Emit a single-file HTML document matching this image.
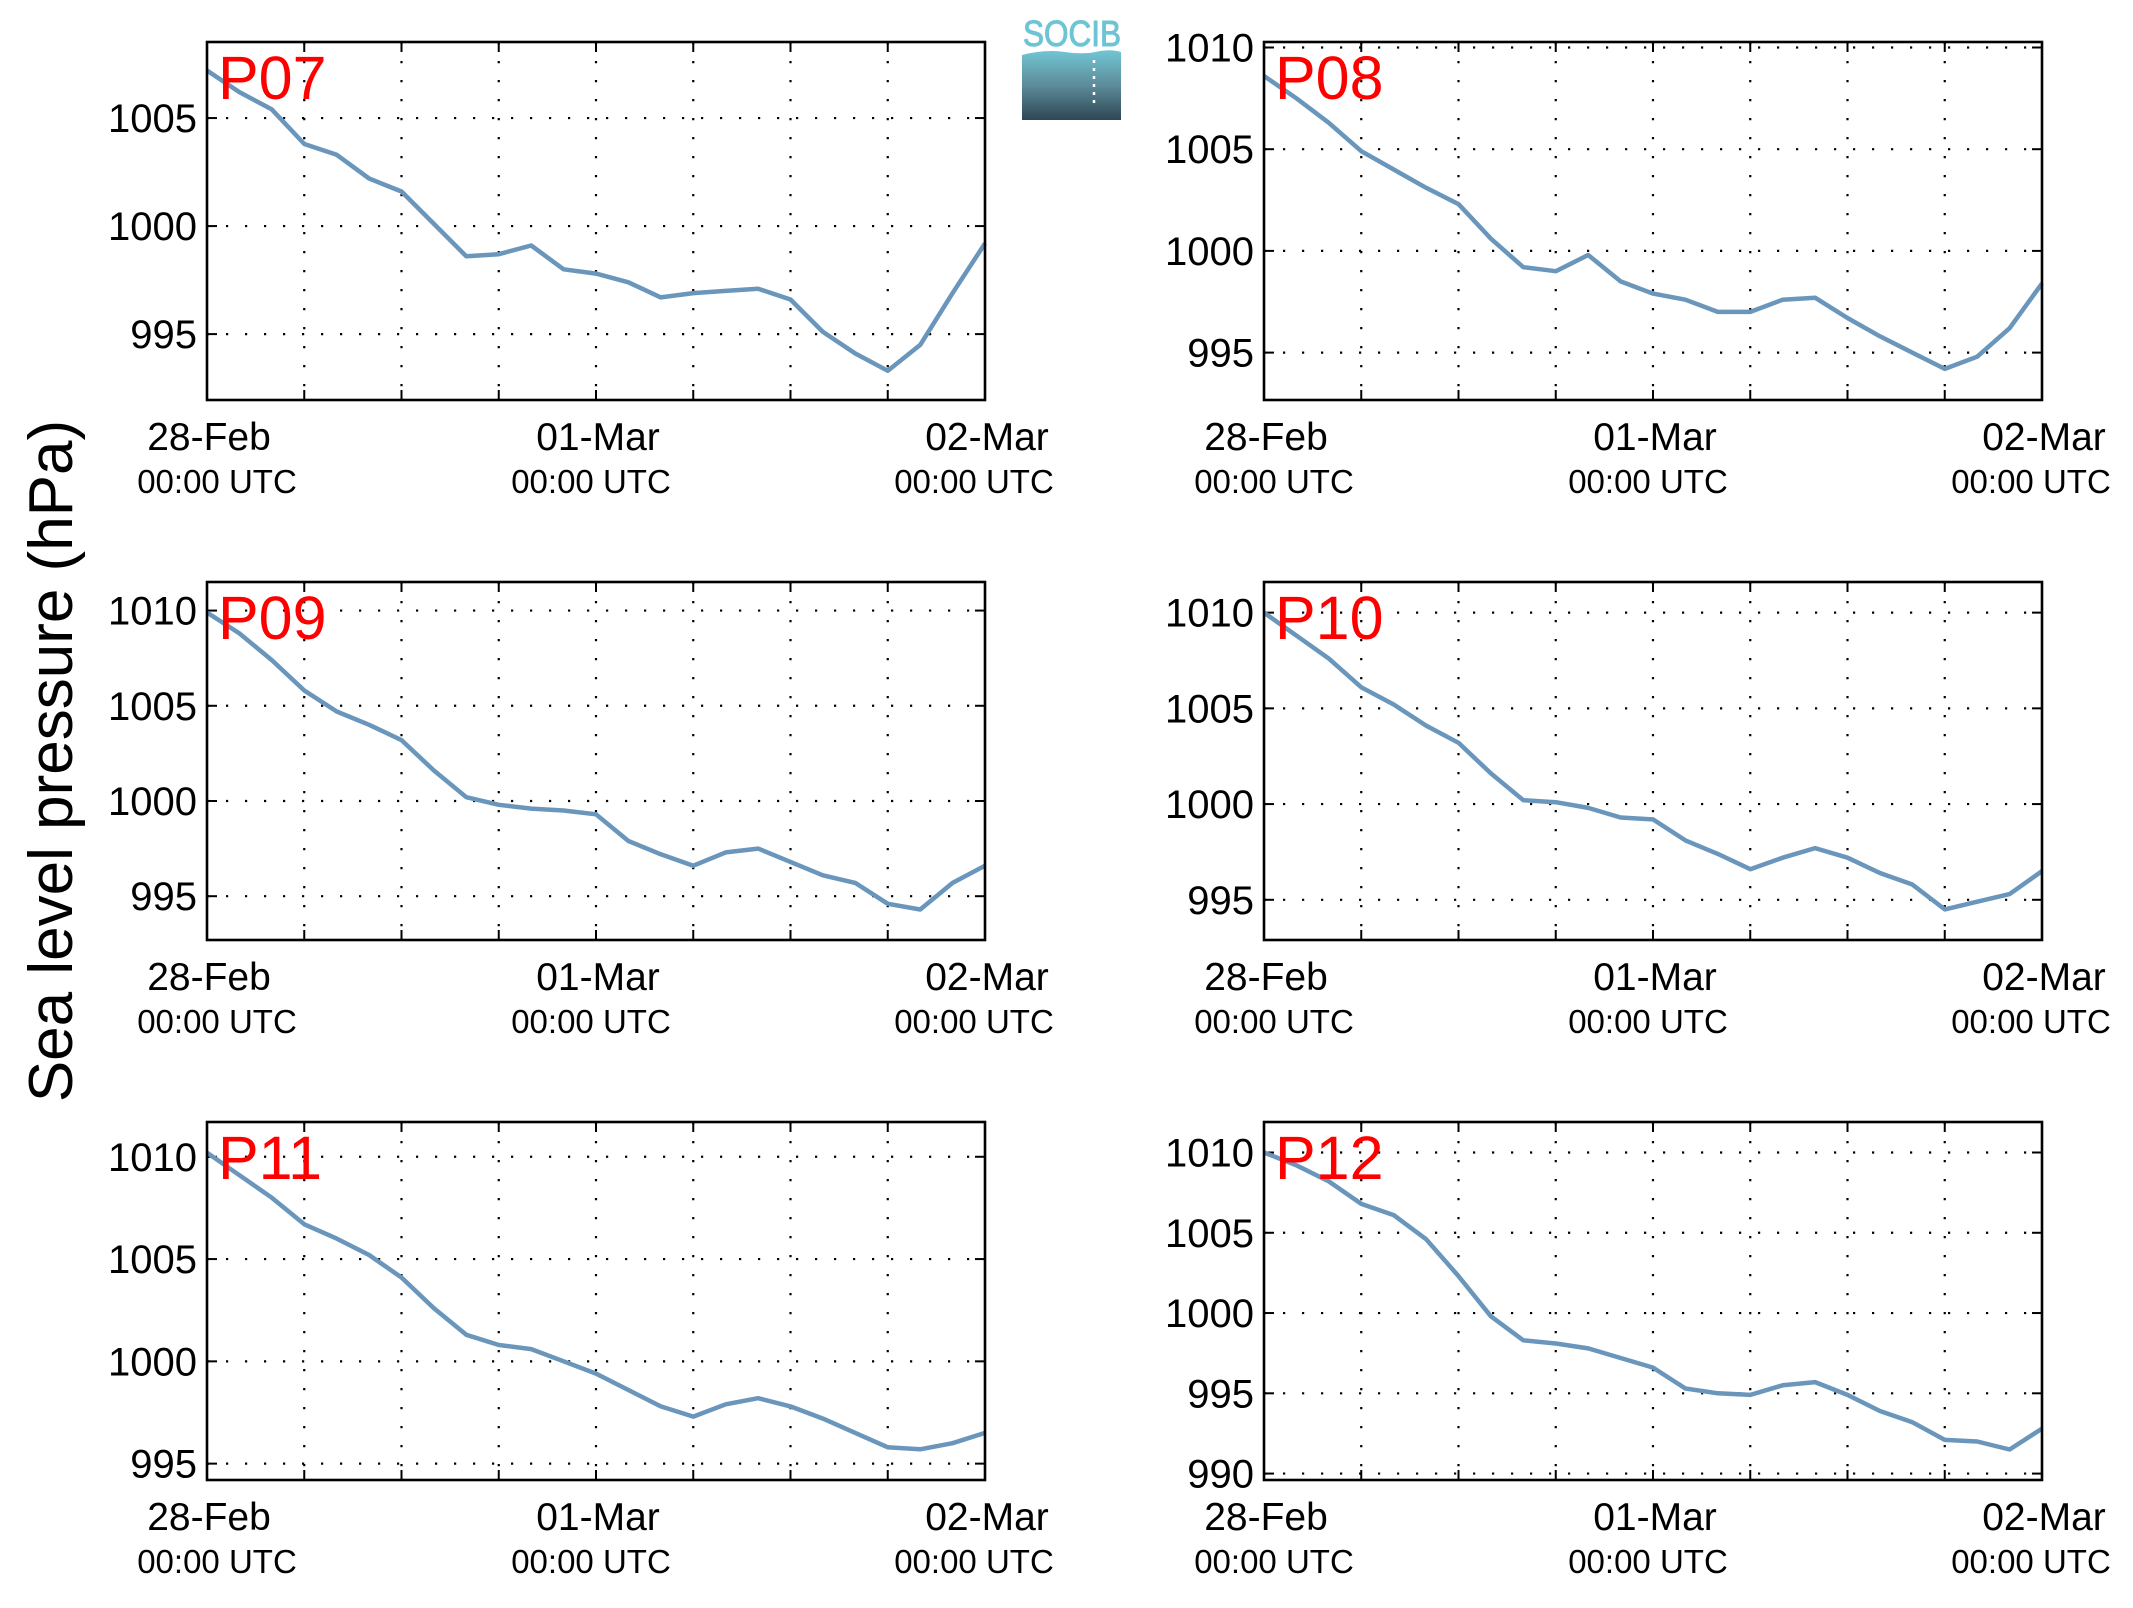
<!DOCTYPE html>
<html><head><meta charset="utf-8"><style>
html,body{margin:0;padding:0;background:#fff;}
svg{display:block;font-family:"Liberation Sans",Arial,sans-serif;}
</style></head><body>
<svg id="fig" width="2133" height="1608" viewBox="0 0 2133 1608" xmlns="http://www.w3.org/2000/svg">
<rect width="2133" height="1608" fill="#fff"/>
<text transform="translate(72,761) rotate(-90)" text-anchor="middle" font-size="62" fill="#000">Sea level pressure (hPa)</text>
<g>
<defs><linearGradient id="lg" x1="0" y1="0" x2="0" y2="1"><stop offset="0" stop-color="#72c6d5"/><stop offset="0.5" stop-color="#5d8c9a"/><stop offset="1" stop-color="#2f4653"/></linearGradient></defs>
<text x="1072" y="46" text-anchor="middle" font-size="36" fill="#6cc4d4" stroke="#6cc4d4" stroke-width="1" textLength="98" lengthAdjust="spacingAndGlyphs">SOCIB</text>
<path d="M1022,55 Q1045,49 1065,52 Q1085,55 1100,51 Q1112,49 1121,52 L1121,120 L1022,120 Z" fill="url(#lg)"/>
<line x1="1094" y1="60" x2="1094" y2="106" stroke="#fff" stroke-width="2.5" stroke-dasharray="3 5"/>
</g>
<g id="panels"></g>
</svg>
<script>
const hours = [0,2,4,6,8,10,12,14,16,18,20,22,24,26,28,30,32,34,36,38,40,42,44,46,48];
const xTickHours = [0,6,12,18,24,30,36,42,48];
const xLabelHours = [0,24,48];
const xDateLabels = ["28-Feb","01-Mar","02-Mar"];
const xTimeLabels = ["00:00 UTC","00:00 UTC","00:00 UTC"];
const panelNames = ["P07","P08","P09","P10","P11","P12"];
const p07 = [1007.2,1006.2,1005.4,1003.8,1003.3,1002.2,1001.6,1000.1,998.6,998.7,999.1,998.0,997.8,997.4,996.7,996.9,997.0,997.1,996.6,995.1,994.1,993.3,994.5,996.9,999.2];
const p08 = [1008.6,1007.5,1006.3,1004.9,1004.0,1003.1,1002.3,1000.6,999.2,999.0,999.8,998.5,997.9,997.6,997.0,997.0,997.6,997.7,996.7,995.8,995.0,994.2,994.8,996.2,998.4];
const p09 = [1009.9,1008.8,1007.4,1005.8,1004.7,1004.0,1003.2,1001.6,1000.2,999.8,999.6,999.5,999.3,997.9,997.2,996.6,997.3,997.5,996.8,996.1,995.7,994.6,994.3,995.7,996.6];
const p10 = [1010.0,1008.8,1007.6,1006.1,1005.2,1004.1,1003.2,1001.6,1000.2,1000.1,999.8,999.3,999.2,998.1,997.4,996.6,997.2,997.7,997.2,996.4,995.8,994.5,994.9,995.3,996.5];
const p11 = [1010.2,1009.1,1008.0,1006.7,1006.0,1005.2,1004.1,1002.6,1001.3,1000.8,1000.6,1000.0,999.4,998.6,997.8,997.3,997.9,998.2,997.8,997.2,996.5,995.8,995.7,996.0,996.5];
const p12 = [1010.0,1009.2,1008.2,1006.8,1006.1,1004.6,1002.3,999.8,998.3,998.1,997.8,997.2,996.6,995.3,995.0,994.9,995.5,995.7,994.9,993.9,993.2,992.1,992.0,991.5,992.8];
const yMins = [991.95,992.67,992.7,992.9,994.2,989.6];
const yMaxs = [1008.52,1010.27,1011.5,1011.6,1011.7,1011.9];
const yTicks07 = [995,1000,1005];
const yTicksStd = [995,1000,1005,1010];
const yTicks12 = [990,995,1000,1005,1010];

const seriesList = [p07,p08,p09,p10,p11,p12];
const tickList = [yTicks07,yTicksStd,yTicksStd,yTicksStd,yTicksStd,yTicks12];
const timeOffsets = [10,-5,-11];
const NS = "http://www.w3.org/2000/svg";
const boxes = [[207,42],[1264,42],[207,582],[1264,582],[207,1122],[1264,1122]];
const W = 778, H = 358;
const root = document.getElementById("panels");
function mk(tag, attrs, parent){const e=document.createElementNS(NS,tag);for(const k in attrs)e.setAttribute(k,attrs[k]);parent.appendChild(e);return e;}

seriesList.forEach((vals, i) => {
  const [L,T] = boxes[i];
  const name = panelNames[i].toLowerCase();
  const g = mk("g", {}, root);
  
  
  const xs = h => L + h / 48 * W;
  const ys = v => T + H - (v - yMins[i]) / (yMaxs[i] - yMins[i]) * H;
  xTickHours.forEach(h => {
    const x = xs(h);
    if (h > 0 && h < 48) {
      const gl = mk("line", {x1:x,y1:T,x2:x,y2:T+H,stroke:"#000","stroke-width":2.2,"stroke-dasharray":"2.2 16.8"}, g);
      
      
    }
    mk("line", {x1:x,y1:T+H,x2:x,y2:T+H-10,stroke:"#000","stroke-width":2}, g);
    mk("line", {x1:x,y1:T,x2:x,y2:T+10,stroke:"#000","stroke-width":2}, g);
  });
  tickList[i].forEach(v => {
    const y = ys(v);
    const gl = mk("line", {x1:L,y1:y,x2:L+W,y2:y,stroke:"#000","stroke-width":2.2,"stroke-dasharray":"2.2 16.8"}, g);
    
    
    mk("line", {x1:L,y1:y,x2:L+10,y2:y,stroke:"#000","stroke-width":2}, g);
    mk("line", {x1:L+W,y1:y,x2:L+W-10,y2:y,stroke:"#000","stroke-width":2}, g);
    const t = mk("text", {x:L-10,y:y+14,"text-anchor":"end","font-size":40,fill:"#000"}, g);
    
    
    t.textContent = v;
  });
  xLabelHours.forEach((h, k) => {
    const x = xs(h);
    const t1 = mk("text", {x:x+2,y:T+H+50,"text-anchor":"middle","font-size":39,fill:"#000"}, g);
    
    
    t1.textContent = xDateLabels[k];
    const t2 = mk("text", {x:x+timeOffsets[k],y:T+H+93,"text-anchor":"middle","font-size":33,fill:"#000"}, g);
    
    
    t2.textContent = xTimeLabels[k];
  });
  const pts = hours.map((h, k) => xs(h).toFixed(1) + "," + ys(vals[k]).toFixed(1)).join(" ");
  const line = mk("polyline", {points:pts,fill:"none",stroke:"#6a96bc","stroke-width":4.5,"stroke-linejoin":"round"}, g);
  
  
  const lab = mk("text", {x:L+11,y:T+57,"font-size":61,fill:"#ff0000"}, g);
  
  
  lab.textContent = panelNames[i];
  const frame = mk("rect", {x:L,y:T,width:W,height:H,fill:"none",stroke:"#000","stroke-width":2.6}, g);
  
  
});
</script>
</body></html>
